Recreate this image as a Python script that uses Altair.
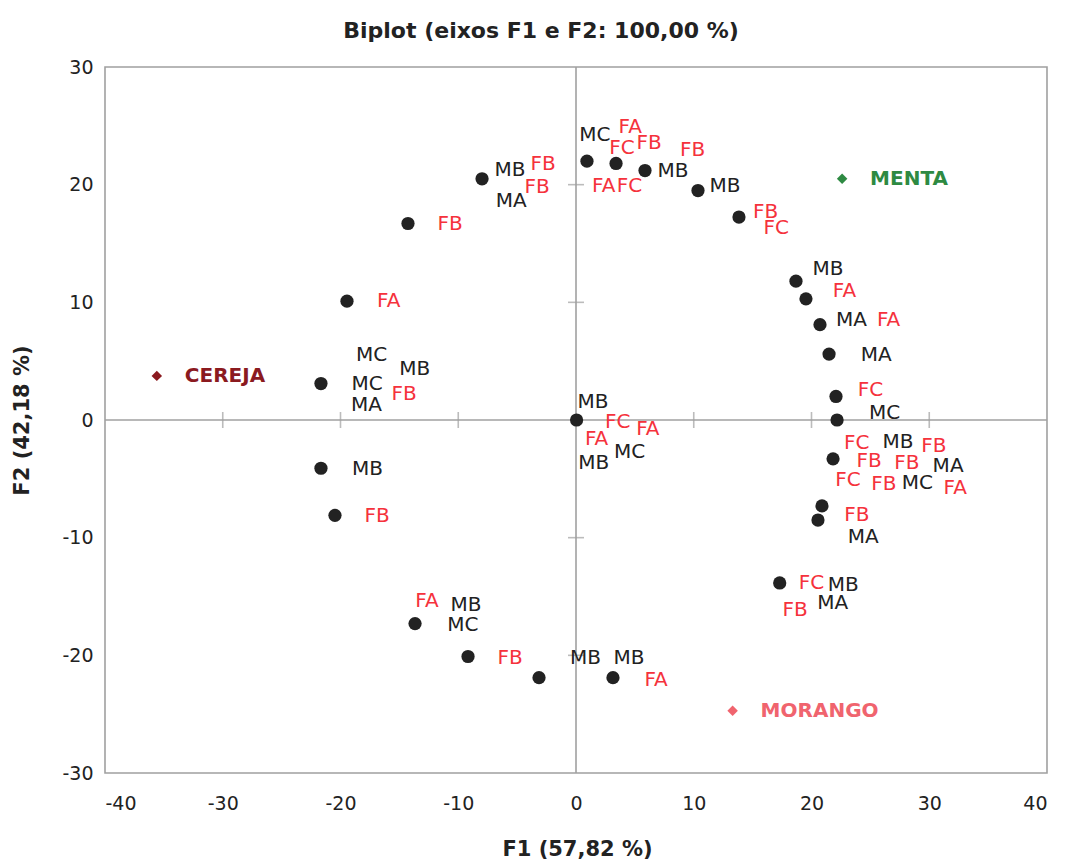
import altair as alt
import pandas as pd

# Observations projected on F1 / F2
obs_f1 = [0.93, 3.40, 5.86, 10.36, 13.84, -7.98, -14.27, -19.45, -21.66, -21.66,
          -20.47, -13.67, -9.17, -3.14, 3.14, 0.05, 18.68, 19.53, 20.72, 21.49,
          22.08, 22.17, 21.83, 20.89, 20.55, 17.30]
obs_f2 = [22.0, 21.8, 21.2, 19.5, 17.25, 20.5, 16.7, 10.1, 3.1, -4.1,
          -8.1, -17.3, -20.1, -21.9, -21.9, 0.0, 11.8, 10.3, 8.1, 5.6,
          2.0, 0.0, -3.3, -7.3, -8.5, -13.85]

# Observation labels (text and anchor in F1 / F2 units)
rot_texto = ["MC", "MB", "MB", "MB", "MA", "MB", "MA", "MA", "MC", "MB",
             "MA", "MC", "MA", "MB", "MA", "MC", "MB", "MC", "MA", "MB",
             "MB", "MC", "MB", "MB", "MB", "MC", "MB",
             "FA", "FC", "FB", "FB", "FA", "FC", "FB", "FC", "FB", "FB",
             "FB", "FA", "FA", "FA", "FC", "FC", "FB", "FB", "FB", "FC",
             "FB", "FA", "FB", "FC", "FB", "FB", "FB", "FA", "FB", "FA",
             "FC", "FA", "FA"]
rot_f1 = [1.61, 8.24, 12.65, -5.6, -5.5, 21.4, 23.4, 25.5, 26.2, 27.35,
          31.6, 29.0, 24.4, 22.7, 21.8, -17.35, -13.7, -17.75, -17.8, -17.7,
          -9.35, -9.6, 0.8, 4.5, 1.45, 4.55, 1.5,
          4.6, 3.9, 6.2, 9.9, 2.35, 4.55, 16.1, 17.0, -2.8, -3.3,
          -10.7, -15.9, 22.8, 26.55, 25.0, 23.85, 30.4, 24.9, 28.1, 23.1,
          26.15, 32.2, 23.85, 20.0, 18.6, -14.6, -16.9, -12.65, -5.6, 6.8,
          3.55, 6.1, 1.75]
rot_f2 = [24.2, 21.2, 19.9, 21.25, 18.6, 12.8, 8.5, 5.5, 0.6, -1.9,
          -3.9, -5.35, -9.95, -14.0, -15.55, 5.5, 4.3, 3.1, 1.3, -4.15,
          -15.7, -17.4, -20.2, -20.2, 1.5, -2.7, -3.65,
          24.9, 23.1, 23.5, 22.95, 19.9, 19.9, 17.7, 16.3, 21.75, 19.8,
          16.65, 10.1, 10.95, 8.5, 2.55, -1.95, -2.2, -3.5, -3.65, -5.1,
          -5.45, -5.8, -8.05, -13.85, -16.15, 2.2, -8.15, -15.4, -20.2, -22.1,
          -0.15, -0.75, -1.6]

# Supplementary variables
sup_nome = ["CEREJA", "MENTA", "MORANGO"]
sup_f1 = [-35.6, 22.6, 13.3]
sup_f2 = [3.75, 20.5, -24.7]

# Axis tick values
x_ticks = [-40, -30, -20, -10, 0, 10, 20, 30, 40]
y_ticks = [-30, -20, -10, 0, 10, 20, 30]
x_cross = [-30, -20, -10, 10, 20, 30]
y_cross = [-20, -10, 10, 20]

obs = pd.DataFrame({"f1": obs_f1, "f2": obs_f2})
rot = pd.DataFrame({"texto": rot_texto, "f1": rot_f1, "f2": rot_f2})
rot["grupo"] = rot["texto"].str[0]
sup = pd.DataFrame({"grupo": sup_nome, "f1": sup_f1, "f2": sup_f2})
cx = pd.DataFrame({"f1": x_cross, "f2": [0] * len(x_cross)})
cy = pd.DataFrame({"f1": [0] * len(y_cross), "f2": y_cross})

FONT = "DejaVu Sans"
GRAY = "#a0a0a0"
INK = "#222222"

xs = alt.Scale(domain=[-40, 40], nice=False, zero=False)
ys = alt.Scale(domain=[-30, 30], nice=False, zero=False)

# one colour scale for label groups and supplementary variables
cores = alt.Scale(domain=["M", "F"] + sup_nome,
                  range=[INK, "#f5323c", "#8b1a1f", "#2e8a42", "#f0646e"])

x_axis = alt.Axis(values=x_ticks, grid=False, ticks=False, tickSize=0, domain=False,
                  labelPadding=21, labelFontSize=19, labelFont=FONT, labelColor=INK,
                  labelExpr="toString(datum.value)",
                  title="F1 (57,82 %)", titleFont=FONT, titleFontSize=21, titleFontWeight="bold",
                  titleColor=INK, titleX=472, titleY=76, titleBaseline="middle")
y_axis = alt.Axis(values=y_ticks, grid=False, ticks=False, tickSize=0, domain=False,
                  labelPadding=12, labelFontSize=19, labelFont=FONT, labelColor=INK,
                  labelExpr="toString(datum.value)",
                  title="F2 (42,18 %)", titleFont=FONT, titleFontSize=21, titleFontWeight="bold",
                  titleColor=INK, titleX=-83, titleY=353, titleBaseline="middle",
                  titleAngle=270)

# central axes through the origin
zero_v = alt.Chart(pd.DataFrame({"f1": [0]})).mark_rule(color=GRAY, strokeWidth=1.6).encode(
    x=alt.X("f1:Q", scale=xs, axis=x_axis))
zero_h = alt.Chart(pd.DataFrame({"f2": [0]})).mark_rule(color=GRAY, strokeWidth=1.6).encode(
    y=alt.Y("f2:Q", scale=ys, axis=y_axis))

tick_x = alt.Chart(cx).mark_tick(orient="vertical", size=16, thickness=1.6, color=GRAY).encode(
    x=alt.X("f1:Q", scale=xs), y=alt.Y("f2:Q", scale=ys))
tick_y = alt.Chart(cy).mark_tick(orient="horizontal", size=16, thickness=1.6, color=GRAY).encode(
    x=alt.X("f1:Q", scale=xs), y=alt.Y("f2:Q", scale=ys))

pontos = alt.Chart(obs).mark_circle(size=175, color=INK, opacity=1).encode(
    x=alt.X("f1:Q", scale=xs), y=alt.Y("f2:Q", scale=ys))

rotulos = alt.Chart(rot).mark_text(font=FONT, fontSize=20, align="center", baseline="middle").encode(
    x=alt.X("f1:Q", scale=xs), y=alt.Y("f2:Q", scale=ys), text="texto:N",
    color=alt.Color("grupo:N", scale=cores, legend=None))

sup_pts = alt.Chart(sup).mark_point(shape="diamond", filled=True, size=110, opacity=1).encode(
    x=alt.X("f1:Q", scale=xs), y=alt.Y("f2:Q", scale=ys),
    color=alt.Color("grupo:N", scale=cores, legend=None))
sup_txt = alt.Chart(sup).mark_text(font=FONT, fontSize=20, fontWeight="bold", align="left",
                                   baseline="middle", dx=28).encode(
    x=alt.X("f1:Q", scale=xs), y=alt.Y("f2:Q", scale=ys), text="grupo:N",
    color=alt.Color("grupo:N", scale=cores, legend=None))

chart = alt.layer(zero_v, zero_h, tick_x, tick_y, pontos, rotulos, sup_pts, sup_txt).properties(
    width=942, height=706,
    title=alt.TitleParams("Biplot (eixos F1 e F2: 100,00 %)", font=FONT, fontSize=22,
                          fontWeight="bold", color=INK, anchor="middle", dx=-35, offset=15),
    autosize=alt.AutoSizeParams(type="none"),
    padding={"left": 105, "top": 67, "right": 18, "bottom": 86},
    background="white",
).configure_view(stroke=GRAY, strokeWidth=1.6)

chart.save("out.html", embed_options={"renderer": "svg", "actions": False})
